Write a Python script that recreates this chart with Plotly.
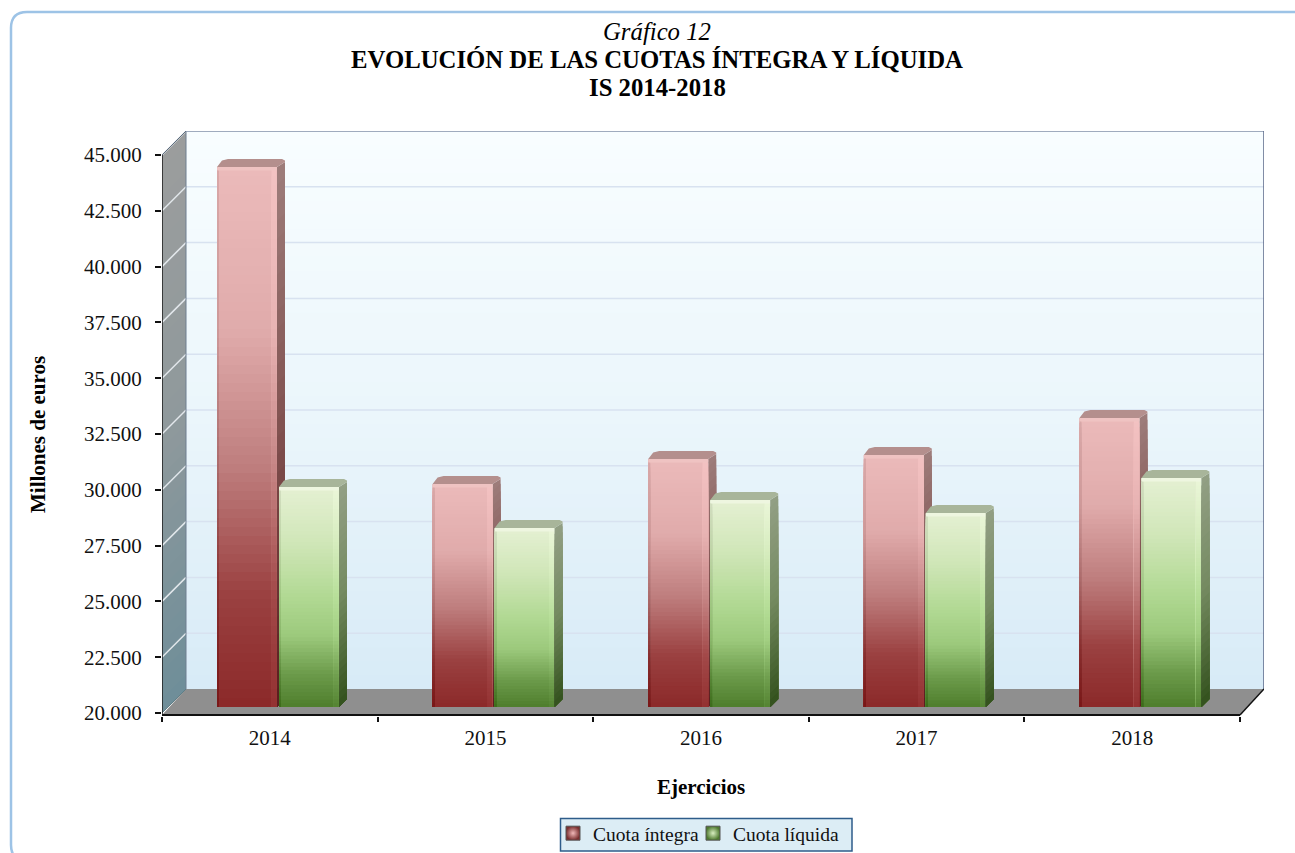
import numpy as np
import plotly.graph_objects as go

# ---- data ----
YEARS = ["2014", "2015", "2016", "2017", "2018"]
CUOTA_INTEGRA = [44190, 29990, 31110, 31290, 32950]
CUOTA_LIQUIDA = [29860, 28020, 29270, 28690, 30260]
Y_TICKS = [20000, 22500, 25000, 27500, 30000, 32500, 35000, 37500, 40000, 42500, 45000]
Y_LABELS = ["20.000", "22.500", "25.000", "27.500", "30.000", "32.500", "35.000", "37.500", "40.000", "42.500", "45.000"]
TITLE_LINES = ["<i>Gráfico 12</i>", "<b>EVOLUCIÓN DE LAS CUOTAS ÍNTEGRA Y LÍQUIDA</b>", "<b>IS 2014-2018</b>"]

W, H = 1295, 853
FONT = "Liberation Serif"
# scale factors of the pseudo-3D frame
PX_CAT = 215.6          # px per category
PX_VAL = 0.02232        # px per euro-unit
PL, PR, PT, PB = 162, 1264, 131, 716
WALL_DX, WALL_DY = 24 / PX_CAT, 24 / PX_VAL
X0, X1 = -0.5, 4.5
Y0 = 20000
XRANGE = [X0, X1 + WALL_DX]
YRANGE = [Y0 - 3 / PX_VAL, 45000 + WALL_DY]
BAR_DX, BAR_DY = 8 / PX_CAT, 8 / PX_VAL
SHIFT = 6 / PX_VAL
BAR_W = 60 / PX_CAT
OFF_RED, OFF_GREEN = -52.8 / PX_CAT, 9.2 / PX_CAT


def lerp(stops, t):
    ps = [s[0] for s in stops]
    cs = np.array([[int(s[1][i:i + 2], 16) for i in (1, 3, 5)] for s in stops], float)
    return np.array([np.interp(t, ps, cs[:, k]) for k in range(3)])


def rgb(c):
    return "rgb(%d,%d,%d)" % tuple(np.clip(np.round(c), 0, 255))


RED_FRONT = [(0, "#ebbaba"), (.3, "#e0abab"), (.55, "#bf7f7f"), (.8, "#9a4040"), (1, "#8c2a2a")]
GRN_FRONT = [(0, "#e4f0d2"), (.25, "#d0e6b8"), (.5, "#b1d993"), (.68, "#9cc97c"), (.86, "#6b9a4a"), (1, "#507f2e")]
RED_SIDE = [(0, "#9d7c7a"), (.5, "#80504f"), (1, "#5a1f1f")]
GRN_SIDE = [(0, "#929f84"), (.5, "#748a60"), (1, "#35531f")]
RED_TOP, GRN_TOP = "#b48f8d", "#a8b59a"
WALL_BACK = [(0, "#f8fdff"), (.5, "#ebf6fb"), (1, "#d8ebf7")]
WALL_SIDE = [(0, "#9b9d9d"), (.5, "#8f999c"), (1, "#6f8e99")]

fig = go.Figure()


def poly(xs, ys, color, xa="x", ya="y"):
    fig.add_trace(go.Scatter(x=xs, y=ys, mode="lines", fill="toself", fillcolor=color, line=dict(width=0),
                             xaxis=xa, yaxis=ya, hoverinfo="skip", showlegend=False))


def line(xs, ys, color, width, xa="x", ya="y", clip=False):
    fig.add_trace(go.Scatter(x=xs, y=ys, mode="lines", line=dict(color=color, width=width), xaxis=xa, yaxis=ya,
                             hoverinfo="skip", showlegend=False, cliponaxis=clip))


# --- walls ---
NW = 40
for j in range(NW):
    t = j / (NW - 1)
    ytop = 45000 + WALL_DY - (45000 - Y0) * j / NW
    ybot = Y0 + WALL_DY
    poly([X0 + WALL_DX, X1 + WALL_DX, X1 + WALL_DX, X0 + WALL_DX, X0 + WALL_DX], [ytop, ytop, ybot, ybot, ytop],
         rgb(lerp(WALL_BACK, t)))
for j in range(NW):
    t = j / (NW - 1)
    v = 45000 - (45000 - Y0) * j / NW
    poly([X0, X0 + WALL_DX, X0 + WALL_DX, X0, X0], [v, v + WALL_DY, Y0 + WALL_DY, Y0, v], rgb(lerp(WALL_SIDE, t)))

# --- gridlines ---
for v in Y_TICKS[1:]:
    line([X0 + WALL_DX, X1 + WALL_DX], [v + WALL_DY, v + WALL_DY], "#d8e2f0", 1.5, clip=True)
    line([X0, X0 + WALL_DX], [v, v + WALL_DY], "#e3e8ec", 1.5, clip=True)

# --- floor ---
FLOOR_LOW = Y0 - 2 / PX_VAL
poly([X0, X0 + WALL_DX, X1 + WALL_DX, X1, X0], [FLOOR_LOW, Y0 + WALL_DY, Y0 + WALL_DY, FLOOR_LOW, FLOOR_LOW], "#8f8f8f")

# --- frame lines ---
line([X0 + WALL_DX, X0 + WALL_DX], [Y0 + WALL_DY, 45000 + WALL_DY], "#6f7f90", 1)
line([X0, X0 + WALL_DX], [45000, 45000 + WALL_DY], "#5f6f80", 1)
line([X0, X0 + WALL_DX], [Y0, Y0 + WALL_DY], "#5f7f88", 1)
line([X0 + WALL_DX, X1 + WALL_DX], [45000 + WALL_DY, 45000 + WALL_DY], "#8a96ad", 1.5)
line([X1 + WALL_DX, X1 + WALL_DX], [Y0 + WALL_DY, 45000 + WALL_DY], "#5a6788", 1.5)
line([X1, X1 + WALL_DX], [FLOOR_LOW, Y0 + WALL_DY], "#111111", 1.5)
line([X0, X0], [FLOOR_LOW, 45000], "#1a1a1a", 1.5)
line([X0, X1], [FLOOR_LOW, FLOOR_LOW], "#111111", 2)


def side_and_top(values, off, side_stops, top_col, xa, ya):
    N = 30
    base = Y0 + SHIFT
    vals = np.array(values, float) + SHIFT
    xr = np.arange(len(values)) + off + BAR_W
    xl = np.arange(len(values)) + off
    cham = 3 / PX_CAT
    chv = 3 / PX_VAL
    for j in range(N):
        xs, ys = [], []
        for i in range(len(values)):
            t_y = vals[i] + (base - vals[i]) * j / N
            xs += [xr[i], xr[i] + BAR_DX, xr[i] + BAR_DX, xr[i], xr[i], None]
            top_back = t_y + BAR_DY - (chv if j == 0 else 0)
            ys += [t_y, top_back, base + BAR_DY, base, t_y, None]
        poly(xs, ys, rgb(lerp(side_stops, j / (N - 1))), xa, ya)
    xs, ys = [], []
    for i in range(len(values)):
        xs += [xl[i], xl[i] + BAR_DX - 1 * cham, xl[i] + BAR_DX + cham, xr[i] + BAR_DX - cham, xr[i] + BAR_DX,
               xr[i] + BAR_DX, xr[i], xl[i], None]
        ys += [vals[i], vals[i] + BAR_DY - chv / 2, vals[i] + BAR_DY, vals[i] + BAR_DY, vals[i] + BAR_DY - chv / 2,
               vals[i] + BAR_DY - chv, vals[i], vals[i], None]
    poly(xs, ys, top_col, xa, ya)


def front(values, off, stops, strip_light, cap_col, name):
    N = 60
    base = Y0 + SHIFT
    xs, bases, heights, cols, offs, widths = [], [], [], [], [], []
    for i, v in enumerate(values):
        top = v + SHIFT
        for col_off, col_w, adj in [(0, 60, 0), (0, 2, -18), (54.5, 5, strip_light)]:
            for j in range(N):
                seg_top = top - (top - base) * j / N
                c = lerp(stops, j / (N - 1)) + adj
                xs.append(i)
                bases.append(base)
                heights.append(seg_top - base)
                cols.append(rgb(c))
                offs.append(off + col_off / PX_CAT)
                widths.append(col_w / PX_CAT)
    fig.add_trace(go.Bar(x=xs, y=heights, base=bases, offset=offs, width=widths, name=name,
                         marker=dict(color=cols, line=dict(width=0)), xaxis="x2", yaxis="y2",
                         hoverinfo="skip", showlegend=False))
    # rounded, lighter cap at the top of each front face
    capx = list(range(len(values)))
    caph = [3.5 / PX_VAL] * len(values)
    capb = [v + SHIFT - 3.5 / PX_VAL for v in values]
    fig.add_trace(go.Bar(x=capx, y=caph, base=capb, offset=off, width=BAR_W, marker=dict(color=cap_col, cornerradius=3, line=dict(width=0)),
                         xaxis="x2", yaxis="y2", hoverinfo="skip", showlegend=False))


side_and_top(CUOTA_INTEGRA, OFF_RED, RED_SIDE, RED_TOP, "x", "y")
front(CUOTA_INTEGRA, OFF_RED, RED_FRONT, 8, "#efc3c2", "Cuota íntegra")
front(CUOTA_LIQUIDA, OFF_GREEN, GRN_FRONT, 6, "#eef6e0", "Cuota líquida")
side_and_top(CUOTA_LIQUIDA, OFF_GREEN, GRN_SIDE, GRN_TOP, "x2", "y2")

# --- legend entries ---
for nm, col, c2 in [("Cuota íntegra", "#7a3030", "#f0b8b8"), ("Cuota líquida", "#4f7a30", "#d8eec0")]:
    fig.add_trace(go.Scatter(x=[None], y=[None], mode="markers", name=nm,
                             marker=dict(symbol="square", size=14, color=col,
                                         gradient=dict(type="radial", color=c2),
                                         line=dict(color="#555555", width=1))))

bx0, by0, bx1, by1, r = 11, 12, 1312, 861, 16


def fx(p):
    return p / W


def fy(p):
    return 1 - p / H


path = (f"M {fx(bx0)} {fy(by0 + r)} Q {fx(bx0)} {fy(by0)} {fx(bx0 + r)} {fy(by0)} L {fx(bx1 - r)} {fy(by0)} "
        f"Q {fx(bx1)} {fy(by0)} {fx(bx1)} {fy(by0 + r)} L {fx(bx1)} {fy(by1 - r)} "
        f"Q {fx(bx1)} {fy(by1)} {fx(bx1 - r)} {fy(by1)} L {fx(bx0 + r)} {fy(by1)} "
        f"Q {fx(bx0)} {fy(by1)} {fx(bx0)} {fy(by1 - r)} Z")

annots = [
    dict(text="<b>Millones de euros</b>", xref="paper", yref="paper", x=38 / W, y=fy(435), textangle=-90,
         showarrow=False, xanchor="center", yanchor="middle", font=dict(family=FONT, size=21, color="#000000")),
    dict(text="<b>Ejercicios</b>", xref="paper", yref="paper", x=701 / W, y=fy(787), showarrow=False,
         xanchor="center", yanchor="middle", font=dict(family=FONT, size=21, color="#000000")),
]
for txt, yp in zip(TITLE_LINES, [32, 60, 88]):
    annots.append(dict(text=txt, xref="paper", yref="paper", x=657 / W, y=fy(yp), showarrow=False,
                       xanchor="center", yanchor="middle", font=dict(family=FONT, size=24.75, color="#000000")))

fig.update_layout(
    width=W, height=H, autosize=False, margin=dict(l=0, r=0, t=0, b=0),
    paper_bgcolor="white", plot_bgcolor="rgba(0,0,0,0)", barmode="overlay",
    font=dict(family=FONT, size=21, color="#111111"), hovermode=False,
    xaxis=dict(domain=[PL / W, PR / W], range=XRANGE, tickmode="array", tickvals=list(range(5)), ticktext=YEARS,
               ticks="", showgrid=False, zeroline=False, showline=False, ticklabelstandoff=7, anchor="y",
               automargin=False, tickfont=dict(family=FONT, size=21, color="#111111")),
    xaxis2=dict(domain=[PL / W, PR / W], range=XRANGE, overlaying="x", anchor="y", tickmode="array",
                tickvals=[X0 + k for k in range(6)], ticks="outside", ticklen=5, tickwidth=1.5, tickcolor="#111111",
                automargin=False, showticklabels=False, showgrid=False, zeroline=False, showline=False),
    yaxis=dict(domain=[1 - PB / H, 1 - PT / H], range=YRANGE, tickmode="array", tickvals=Y_TICKS, ticktext=Y_LABELS,
               ticks="outside", ticklen=6, tickwidth=1.5, tickcolor="#111111", showgrid=False, zeroline=False,
               automargin=False, showline=False, ticklabelstandoff=9, tickfont=dict(family=FONT, size=21, color="#111111")),
    yaxis2=dict(domain=[1 - PB / H, 1 - PT / H], range=YRANGE, overlaying="y", visible=False, automargin=False),
    legend=dict(orientation="h", x=560 / W, y=0, xanchor="left", yanchor="bottom", bgcolor="rgba(0,0,0,0)",
                borderwidth=0, font=dict(family=FONT, size=19.5, color="#111111"),
                itemwidth=30, indentation=-7, entrywidth=102, entrywidthmode="pixels", tracegroupgap=0),
    shapes=[dict(type="path", xref="paper", yref="paper", path=path, line=dict(color="#9dc3e6", width=2.5), layer="below"),
            dict(type="rect", xref="paper", yref="paper", x0=fx(560.5), x1=fx(852), y0=fy(851), y1=fy(818.5),
                 fillcolor="#dcedf5", line=dict(color="#2e5c8a", width=1.5), layer="above")],
    annotations=annots,
)

fig.write_html("out.html", config=dict(displayModeBar=False), post_script="document.body.style.margin='0';")
